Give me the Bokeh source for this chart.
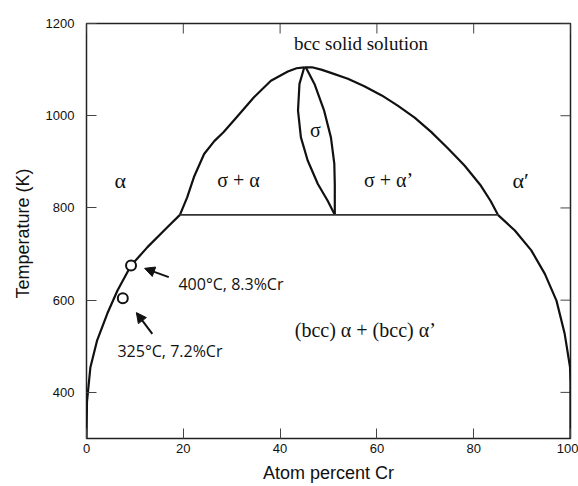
from bokeh.plotting import figure
from bokeh.models import Range1d, FixedTicker, Arrow, NormalHead
from bokeh.core.properties import value
from bokeh.embed import file_html
from bokeh.resources import INLINE

# ---- data (atom % Cr, temperature K) ----
alpha_x = [0, 0.1, 0.8, 2.2, 4.3, 6.4, 9.2, 12.6, 16.7, 19.3]
alpha_t = [300, 380, 454, 513, 571, 621, 675, 715, 758, 785]

sig_alpha_x = [19.3, 20.8, 22.2, 24.3, 26.4, 28.3, 31.2, 34.6, 38.1, 41.6, 43.4, 45.0]
sig_alpha_t = [785, 823, 867, 917, 945, 964, 999, 1040, 1076, 1096, 1103, 1105]

dome_right_x = [45.0, 46.6, 48.5, 50.5, 54.0, 57.4, 61.0, 64.3, 67.8, 71.2, 74.6, 78.1, 81.5, 83.5, 85.0]
dome_right_t = [1105, 1105, 1100, 1093, 1080, 1064, 1044, 1022, 996, 965, 930, 892, 848, 815, 785]

alpha_p_x = [85.0, 88.5, 91.9, 94.7, 97.1, 98.8, 99.9, 100, 100]
alpha_p_t = [785, 751, 708, 657, 599, 527, 455, 420, 300]

sigma_left_x = [45.0, 44.0, 43.7, 44.3, 45.7, 47.8, 49.8, 51.3]
sigma_left_t = [1105, 1069, 1011, 953, 903, 852, 816, 785]
sigma_right_x = [45.3, 47.1, 49.1, 50.5, 51.2, 51.3, 51.3]
sigma_right_t = [1105, 1069, 1011, 953, 896, 850, 785]

eutectoid_x = [19.3, 85.0]
eutectoid_t = [785, 785]

point_x = [9.2, 7.5]
point_t = [675, 604]
point_labels = ["400°C, 8.3%Cr", "325°C, 7.2%Cr"]

x_ticks = [0, 20, 40, 60, 80, 100]
y_ticks = [400, 600, 800, 1000, 1200]

X_MIN, X_MAX, T_MIN, T_MAX = 0, 100, 300, 1200

# ---- annotation placement ----
region_labels = ["α", "σ + α", "σ", "σ + α’", "α′"]
region_x = [7.0, 31.4, 47.3, 62.4, 89.7]
region_t = [860, 860, 968, 860, 860]
region_size = ["22px", "20px", "20px", "20px", "22px"]

W, H = 578, 486
BL, BR, BT, BB = 86, 8, 23, 48

p = figure(width=W, height=H, output_backend="svg", toolbar_location=None,
           x_range=Range1d(X_MIN, X_MAX), y_range=Range1d(T_MIN, T_MAX),
           min_border_left=BL, min_border_right=BR, min_border_top=BT, min_border_bottom=BB)
p.background_fill_color = "white"
p.border_fill_color = "white"
p.xgrid.visible = False
p.ygrid.visible = False
p.outline_line_color = "#222222"
p.outline_line_width = 1.5

for ax in (p.xaxis[0], p.yaxis[0]):
    ax.axis_line_color = None
    ax.major_tick_in = 10
    ax.major_tick_out = 0
    ax.major_tick_line_color = "#444444"
    ax.minor_tick_line_color = None
    ax.major_label_text_font = "Liberation Sans"
    ax.major_label_text_font_size = "13px"
    ax.major_label_text_color = "#111111"
    ax.axis_label_text_font = "Liberation Sans"
    ax.axis_label_text_font_size = "18px"
    ax.axis_label_text_font_style = "normal"
    ax.axis_label_text_color = "#111111"

p.xaxis.ticker = FixedTicker(ticks=x_ticks)
p.yaxis.ticker = FixedTicker(ticks=y_ticks)
p.xaxis.axis_label = "Atom percent Cr"
p.yaxis.axis_label = "Temperature  (K)"
p.xaxis.major_label_standoff = 5
p.yaxis.major_label_standoff = 12
p.xaxis.axis_label_standoff = 7
p.yaxis.axis_label_standoff = 10

# mirrored inside ticks on top and right edges
frame_w = W - BL - BR
frame_h = H - BT - BB
tick_dx = 10 * (X_MAX - X_MIN) / frame_w
tick_dt = 10 * (T_MAX - T_MIN) / frame_h
p.segment(x0=x_ticks, y0=[T_MAX] * len(x_ticks), x1=x_ticks, y1=[T_MAX - tick_dt] * len(x_ticks),
          line_color="#444444", line_width=1)
p.segment(x0=[X_MAX] * len(y_ticks), y0=y_ticks, x1=[X_MAX - tick_dx] * len(y_ticks), y1=y_ticks,
          line_color="#444444", line_width=1)

lc = "#111111"
for xs, ts in [(alpha_x, alpha_t), (sig_alpha_x, sig_alpha_t), (dome_right_x, dome_right_t),
               (alpha_p_x, alpha_p_t), (sigma_left_x, sigma_left_t), (sigma_right_x, sigma_right_t)]:
    p.line(xs, ts, line_color=lc, line_width=2.2, line_join="round")
p.line(eutectoid_x, eutectoid_t, line_color="#333333", line_width=1.6)

p.scatter(point_x, point_t, size=10, marker="circle", fill_color="white",
          line_color=lc, line_width=2)

# region labels
for lx, lt, lab, sz in zip(region_x, region_t, region_labels, region_size):
    p.text([lx], [lt], text=[lab], text_font=value("Liberation Serif"),
           text_font_size=sz, text_align="center", text_baseline="middle", text_color=lc)
p.text([56.7], [1157], text=["bcc solid solution"], text_font=value("Liberation Serif"),
       text_font_size="19px", text_align="center", text_baseline="middle", text_color=lc)
p.text([57.6], [535], text=["(bcc) α + (bcc) α’"], text_font=value("Liberation Serif"),
       text_font_size="20px", text_align="center", text_baseline="middle", text_color=lc)

# point labels + arrows
label_x = [19.0, 6.4]
label_t = [634, 489]
p.text(label_x, label_t, text=point_labels, text_font=value("Open Sans"),
       text_font_size="16px", text_align="left", text_baseline="middle", text_color=lc)

arrow_x_start = [17.0, 13.6]
arrow_t_start = [650, 527]
arrow_x_end = [12.0, 10.3]
arrow_t_end = [669, 573]
for xs, ts, xe, te in zip(arrow_x_start, arrow_t_start, arrow_x_end, arrow_t_end):
    p.add_layout(Arrow(end=NormalHead(size=10, fill_color=lc, line_color=lc),
                       x_start=xs, y_start=ts, x_end=xe, y_end=te,
                       line_color=lc, line_width=2))

open("out.html", "w").write(file_html(p, INLINE))
